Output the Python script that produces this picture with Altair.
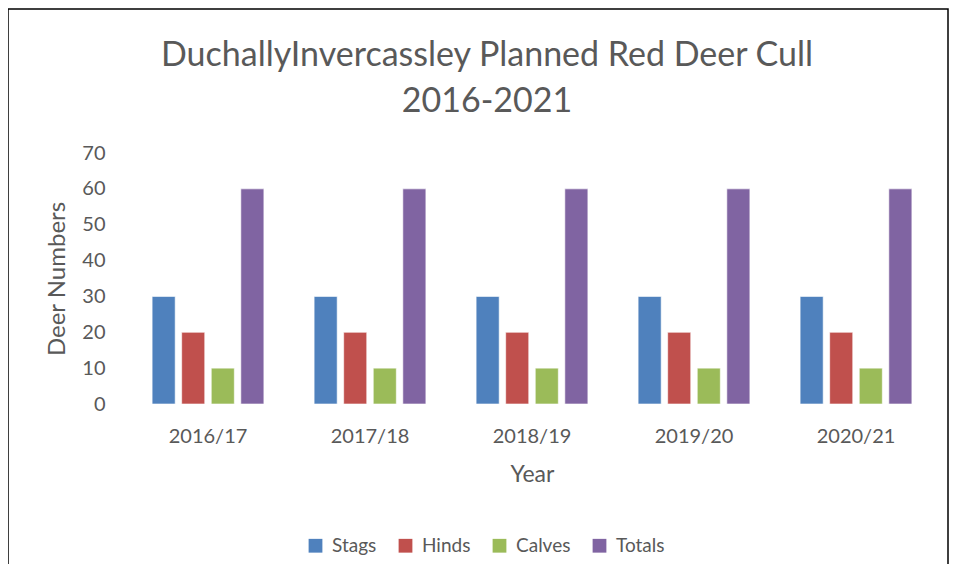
import altair as alt
import pandas as pd

years = ["2016/17", "2017/18", "2018/19", "2019/20", "2020/21"]
series = ["Stags", "Hinds", "Calves", "Totals"]
stags = [30, 30, 30, 30, 30]
hinds = [20, 20, 20, 20, 20]
calves = [10, 10, 10, 10, 10]
totals = [60, 60, 60, 60, 60]
colors = ["#4F81BD", "#C0504D", "#9BBB59", "#8064A2"]
title_lines = ["DuchallyInvercassley Planned Red Deer Cull", "2016-2021"]

rows = []
for name, vals in zip(series, [stags, hinds, calves, totals]):
    for y, v in zip(years, vals):
        rows.append({"Year": y, "Series": name, "Value": v})
df = pd.DataFrame(rows)

FONT = "Lato"
GREY = "#595959"

bars = alt.Chart(df).mark_bar(stroke="white", strokeWidth=0.6).encode(
    x=alt.X("Year:N", sort=years,
            scale=alt.Scale(paddingInner=0.31, paddingOuter=0.155),
            axis=alt.Axis(title="Year", labelAngle=0, labelFontSize=20, titleFontSize=23,
                          labelColor=GREY, titleColor=GREY, labelFont=FONT, titleFont=FONT,
                          titleFontWeight="normal", ticks=False, domain=False,
                          labelPadding=22, titlePadding=17)),
    xOffset=alt.XOffset("Series:N", sort=series, scale=alt.Scale(paddingInner=0.22)),
    y=alt.Y("Value:Q", scale=alt.Scale(domain=[0, 70]),
            axis=alt.Axis(title="Deer Numbers", values=[0, 10, 20, 30, 40, 50, 60, 70],
                          labelFontSize=20, titleFontSize=24, labelColor=GREY, titleColor=GREY,
                          labelFont=FONT, titleFont=FONT, titleFontWeight="normal",
                          ticks=False, domain=False, labelPadding=22, titlePadding=12,
                          gridColor="#D9D9D9", gridWidth=1.5)),
    color=alt.Color("Series:N", sort=series,
                    scale=alt.Scale(domain=series, range=colors),
                    legend=alt.Legend(title=None, orient="none", direction="horizontal",
                                      legendX=179, legendY=383, symbolType="square",
                                      symbolSize=190, symbolStrokeWidth=0, labelFontSize=19,
                                      labelColor=GREY, labelFont=FONT, columnPadding=19,
                                      labelOffset=7)),
)

border = alt.Chart(pd.DataFrame({"a": [0]})).mark_rect(
    fill=None, stroke="black", strokeWidth=1.5, clip=False
).encode(
    x=alt.value(-119), x2=alt.value(821), y=alt.value(-144), y2=alt.value(480)
)

title_df = pd.DataFrame({"line": title_lines, "i": [0, 1]})
title = alt.Chart(title_df).mark_text(
    font=FONT, fontSize=34, color=GREY, align="center", baseline="middle", clip=False
).encode(
    text="line:N",
    x=alt.value(360),
    y=alt.Y("i:Q", scale=alt.Scale(domain=[0, 1], range=[-97, -51]), axis=None),
)

chart = alt.layer(border, title, bars).resolve_scale(y="independent").properties(
    width=810, height=251,
    autosize=alt.AutoSizeParams(type="none"),
    padding={"left": 119, "top": 145, "right": 12, "bottom": 160},
).configure_view(stroke=None)

chart.save("out.html", embed_options={"renderer": "svg", "actions": False})
